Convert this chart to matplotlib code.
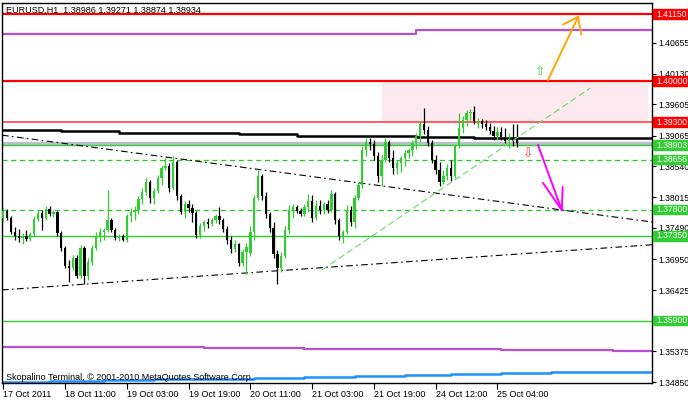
import matplotlib

matplotlib.use("Agg")
import matplotlib.pyplot as plt  # noqa: E402
from matplotlib.patches import Rectangle  # noqa: E402
from matplotlib.transforms import blended_transform_factory  # noqa: E402

# EURUSD H1 candles, 17 Oct 19:00 .. 25 Oct 09:00 (one bar per hour)
opens = [
    1.3766, 1.3778, 1.3766, 1.3742, 1.3735, 1.3732, 1.3735, 1.3730, 1.3738, 1.3764,
    1.3774, 1.3766, 1.3781, 1.3773, 1.3776, 1.3740, 1.3714, 1.3684, 1.3680, 1.3697,
    1.3666, 1.3714, 1.3666, 1.3690, 1.3714, 1.3735, 1.3742, 1.3745, 1.3762, 1.3745,
    1.3732, 1.3735, 1.3728, 1.3769, 1.3776, 1.3779, 1.3798, 1.3810, 1.3827, 1.3800,
    1.3812, 1.3834, 1.3851, 1.3855, 1.3817, 1.3862, 1.3803, 1.3776, 1.3790, 1.3783,
    1.3774, 1.3737, 1.3752, 1.3759, 1.3756, 1.3762, 1.3769, 1.3762, 1.3747, 1.3728,
    1.3713, 1.3721, 1.3689, 1.3708, 1.3706, 1.3742, 1.3800, 1.3838, 1.3803, 1.3773,
    1.3749, 1.3704, 1.3680, 1.3701, 1.3745, 1.3779, 1.3785, 1.3778, 1.3773, 1.3785,
    1.3795, 1.3766, 1.3786, 1.3779, 1.3790, 1.3779, 1.3807, 1.3762, 1.3735, 1.3742,
    1.3779, 1.3759, 1.3800, 1.3822, 1.3882, 1.3896, 1.3892, 1.3872, 1.3838, 1.3865,
    1.3896, 1.3868, 1.3851, 1.3860, 1.3868, 1.3877, 1.3882, 1.3894, 1.3906, 1.3927,
    1.3916, 1.3894, 1.3865, 1.3848, 1.3827, 1.3838, 1.3851, 1.3838, 1.3889, 1.3920,
    1.3934, 1.3946, 1.3947, 1.3927, 1.3932, 1.3927, 1.3922, 1.3915, 1.3906, 1.3913,
    1.3904, 1.3898, 1.3901, 1.38986,
]
highs = [
    1.3785, 1.3781, 1.3769, 1.3750, 1.3747, 1.3740, 1.3745, 1.3742, 1.3769, 1.3779,
    1.3779, 1.3786, 1.3786, 1.3779, 1.3778, 1.3744, 1.3718, 1.3694, 1.3702, 1.3702,
    1.3720, 1.3718, 1.3697, 1.3720, 1.3742, 1.3749, 1.3749, 1.3814, 1.3766, 1.3749,
    1.3738, 1.3738, 1.3773, 1.3783, 1.3786, 1.3803, 1.3817, 1.3834, 1.3831, 1.3817,
    1.3839, 1.3857, 1.3868, 1.3860, 1.3872, 1.3865, 1.3807, 1.3795, 1.3797, 1.3790,
    1.3778, 1.3757, 1.3762, 1.3766, 1.3766, 1.3773, 1.3785, 1.3766, 1.3752, 1.3735,
    1.3728, 1.3723, 1.3713, 1.3723, 1.3752, 1.3805, 1.3848, 1.3841, 1.3810, 1.3776,
    1.3759, 1.3711, 1.3708, 1.3752, 1.3788, 1.3790, 1.3788, 1.3783, 1.3790, 1.3807,
    1.3805, 1.3797, 1.3797, 1.3793, 1.3797, 1.3814, 1.3810, 1.3766, 1.3745, 1.3788,
    1.3786, 1.3805, 1.3827, 1.3889, 1.3903, 1.3903, 1.3899, 1.3879, 1.3874, 1.3903,
    1.3899, 1.3882, 1.3865, 1.3872, 1.3882, 1.3886, 1.3899, 1.3911, 1.3932, 1.3954,
    1.3923, 1.3899, 1.3874, 1.3862, 1.3848, 1.3858, 1.3865, 1.3891, 1.3946, 1.3940,
    1.3951, 1.3952, 1.3958, 1.3937, 1.3935, 1.3934, 1.3928, 1.3923, 1.3922, 1.3922,
    1.3920, 1.3911, 1.3927, 1.39271,
]
lows = [
    1.3759, 1.3762, 1.3738, 1.3728, 1.3725, 1.3721, 1.3726, 1.3726, 1.3735, 1.3761,
    1.3745, 1.3762, 1.3769, 1.3768, 1.3735, 1.3709, 1.3680, 1.3656, 1.3677, 1.3663,
    1.3663, 1.3653, 1.3660, 1.3685, 1.3711, 1.3725, 1.3728, 1.3742, 1.3742, 1.3728,
    1.3726, 1.3726, 1.3725, 1.3759, 1.3762, 1.3773, 1.3790, 1.3805, 1.3791, 1.3790,
    1.3809, 1.3822, 1.3848, 1.3810, 1.3814, 1.3797, 1.3773, 1.3766, 1.3776, 1.3759,
    1.3732, 1.3732, 1.3744, 1.3749, 1.3752, 1.3757, 1.3756, 1.3742, 1.3721, 1.3706,
    1.3708, 1.3684, 1.3684, 1.3670, 1.3701, 1.3728, 1.3797, 1.3797, 1.3766, 1.3742,
    1.3697, 1.3653, 1.3673, 1.3697, 1.3738, 1.3766, 1.3774, 1.3769, 1.3769, 1.3776,
    1.3759, 1.3762, 1.3773, 1.3773, 1.3774, 1.3776, 1.3756, 1.3728, 1.3723, 1.3738,
    1.3752, 1.3749, 1.3797, 1.3817, 1.3872, 1.3882, 1.3865, 1.3827, 1.3821, 1.3862,
    1.3862, 1.3841, 1.3841, 1.3845, 1.3855, 1.3868, 1.3872, 1.3884, 1.3896, 1.3910,
    1.3889, 1.3860, 1.3841, 1.3821, 1.3824, 1.3831, 1.3829, 1.3834, 1.3886, 1.3911,
    1.3923, 1.3934, 1.3927, 1.3920, 1.3920, 1.3916, 1.3910, 1.3899, 1.3899, 1.3899,
    1.3894, 1.3886, 1.3889, 1.38874,
]
closes = [
    1.3778, 1.3766, 1.3742, 1.3735, 1.3732, 1.3735, 1.3730, 1.3738, 1.3764, 1.3774,
    1.3766, 1.3781, 1.3773, 1.3776, 1.3740, 1.3714, 1.3684, 1.3680, 1.3697, 1.3666,
    1.3714, 1.3666, 1.3690, 1.3714, 1.3735, 1.3742, 1.3745, 1.3762, 1.3745, 1.3732,
    1.3735, 1.3728, 1.3769, 1.3776, 1.3779, 1.3798, 1.3810, 1.3827, 1.3800, 1.3812,
    1.3834, 1.3851, 1.3855, 1.3817, 1.3862, 1.3803, 1.3776, 1.3790, 1.3783, 1.3774,
    1.3737, 1.3752, 1.3759, 1.3756, 1.3762, 1.3769, 1.3762, 1.3747, 1.3728, 1.3713,
    1.3721, 1.3689, 1.3708, 1.3716, 1.3742, 1.3800, 1.3838, 1.3803, 1.3773, 1.3749,
    1.3704, 1.3680, 1.3701, 1.3745, 1.3779, 1.3785, 1.3778, 1.3773, 1.3785, 1.3795,
    1.3766, 1.3786, 1.3779, 1.3790, 1.3779, 1.3807, 1.3762, 1.3735, 1.3742, 1.3779,
    1.3759, 1.3800, 1.3822, 1.3882, 1.3896, 1.3892, 1.3872, 1.3838, 1.3865, 1.3896,
    1.3868, 1.3851, 1.3860, 1.3868, 1.3877, 1.3882, 1.3894, 1.3906, 1.3927, 1.3916,
    1.3894, 1.3865, 1.3848, 1.3827, 1.3838, 1.3851, 1.3838, 1.3889, 1.3920, 1.3934,
    1.3946, 1.3947, 1.3932, 1.3932, 1.3927, 1.3922, 1.3915, 1.3906, 1.3913, 1.3904,
    1.3898, 1.3901, 1.3898, 1.38934,
]

time_tick_bars = [0, 16, 32, 48, 64, 80, 96, 112, 128]
time_tick_labels = ["17 Oct 2011", "18 Oct 11:00", "19 Oct 03:00", "19 Oct 19:00",
                    "20 Oct 11:00", "21 Oct 03:00", "21 Oct 19:00", "24 Oct 12:00",
                    "25 Oct 04:00"]
# 1.35900 / 1.41180 grid values sit under the level tags, so they are not listed
price_ticks = [1.40655, 1.40130, 1.39605, 1.39065, 1.38540, 1.38015, 1.37490,
               1.36950, 1.36425, 1.35375, 1.34850]
price_tick_labels = ["1.40655", "1.40130", "1.39605", "1.39065", "1.38540", "1.38015",
                     "1.37490", "1.36950", "1.36425", "1.35375", "1.34850"]

# horizontal levels
red_levels = [1.41150, 1.40000, 1.39300]
green_dashed_levels = [1.38656, 1.37800]
green_solid_levels = [1.38903, 1.37350, 1.35900]
bid_price = 1.38934
resistance_zone = (98, 167, 1.39300, 1.40000)

# stepped indicator lines (bar where each step starts, value)
black_ma_bars = [0, 15, 30, 46, 61, 76, 92, 107, 122, 138, 153]
black_ma_vals = [1.3916, 1.3915, 1.3912, 1.3911, 1.3909, 1.3907, 1.3906, 1.3904,
                 1.3903, 1.3903, 1.3902]
top_purple_bars = [0, 107]
top_purple_vals = [1.40816, 1.40885]
low_purple_bars = [0, 26, 52, 78, 104, 129, 158]
low_purple_vals = [1.35455, 1.35445, 1.35430, 1.35420, 1.35410, 1.35405, 1.35381]
blue_bars = [0, 12, 26, 39, 52, 65, 78, 91, 104, 116, 129, 142, 155]
blue_vals = [1.34842, 1.34862, 1.34884, 1.34893, 1.34907, 1.34919, 1.34931,
             1.34958, 1.34970, 1.34979, 1.34999, 1.35016, 1.35027]

# trend lines: two anchor points each (bar, price)
upper_trend = [(0.4, 1.3907), (168.0, 1.3759)]
lower_trend = [(0.4, 1.3643), (168.0, 1.3720)]
up_channel = [(82.6, 1.3677), (152.0, 1.3988)]

# forecast arrows: tail, head, two barbs (bar, price)
orange_arrow = [(141.1, 1.4002), (148.9, 1.4110), (145.0, 1.4097), (149.7, 1.4080)]
magenta_arrow = [(138.5, 1.3891), (144.7, 1.3779), (139.8, 1.3826), (144.9, 1.3819)]

XMIN, XMAX = -0.34, 168.05
YMIN, YMAX = 1.34833, 1.41339
BULL = "#32cd32"
BEAR = "#000000"

plt.rcParams.update({
    "font.family": ["Liberation Sans", "DejaVu Sans"],
    "font.size": 6.5,
})
fig = plt.figure(figsize=(6.88, 4.01), dpi=100)
ax = fig.add_axes([2 / 688, 18 / 401, 650 / 688, 380 / 401])
ax.set_xlim(XMIN, XMAX)
ax.set_ylim(YMIN, YMAX)

# resistance zone
x0, x1, lo, hi = resistance_zone
ax.fill_between([x0, x1], lo, hi, color="#fdeaf0", lw=0, zorder=0)

ax.axhline(red_levels[0], color="#ff0000", lw=1.6, zorder=1)
ax.axhline(red_levels[1], color="#ff0000", lw=1.6, zorder=1)
ax.axhline(red_levels[2], color="#ff5c5c", lw=1.4, zorder=1)
ax.axhline(bid_price, color="#bdbdcc", lw=2.4, zorder=1)
for level in green_dashed_levels:
    ax.axhline(level, color="#22cc22", lw=0.9, ls=(0, (4, 3)), zorder=1)
for level in green_solid_levels:
    ax.axhline(level, color="#32cd32", lw=1.0, zorder=1)


def stepped(bars, vals, **kw):
    ax.step(list(bars) + [XMAX], list(vals) + [vals[-1]], where="post", **kw)


stepped(black_ma_bars, black_ma_vals, color="black", lw=1.8, zorder=2)
stepped(top_purple_bars, top_purple_vals, color="#b44fd6", lw=1.6, zorder=2)
stepped(low_purple_bars, low_purple_vals, color="#b44fd6", lw=1.6, zorder=2)
stepped(blue_bars, blue_vals, color="#1e90ff", lw=1.8, zorder=2)

ax.axline(*upper_trend, color="black", lw=0.8, ls=(0, (6, 3, 1.5, 3)), zorder=2)
ax.axline(*lower_trend, color="black", lw=0.8, ls=(0, (6, 3, 1.5, 3)), zorder=2)
ax.plot(*zip(*up_channel), color="#66dd66", lw=0.8, ls=(0, (6, 3)), zorder=4)

# candles
for i, (o, h, l, c) in enumerate(zip(opens, highs, lows, closes)):
    col = BULL if c >= o else BEAR
    ax.vlines(i, l, h, color=col, lw=0.9, zorder=3)
    ax.bar(i, max(abs(c - o), 0.00008), bottom=min(o, c), width=0.6, color=col,
           lw=0, zorder=3)

for arrow, col in ((orange_arrow, "#ffa500"), (magenta_arrow, "#ff00ff")):
    tail, head, barb1, barb2 = arrow
    for start in (tail, barb1, barb2):
        ax.plot([start[0], head[0]], [start[1], head[1]], color=col, lw=1.4,
                solid_capstyle="round", zorder=5)

ax.text(139.2, 1.4016, "\u21e7", color="#33cc33", fontsize=9, ha="center", va="center",
        family="DejaVu Sans", zorder=5)
ax.text(135.9, 1.3876, "\u21e9", color="#ff3b3b", fontsize=9, ha="center", va="center",
        family="DejaVu Sans", zorder=5)

# axes look
for spine in ax.spines.values():
    spine.set_color("black")
    spine.set_linewidth(1.0)
ax.yaxis.tick_right()
ax.set_yticks(price_ticks, price_tick_labels)
ax.tick_params(axis="y", length=3, width=0.8, pad=1.5, direction="out", labelsize=6.2)
ax.set_xticks(time_tick_bars, time_tick_labels, ha="left")
ax.tick_params(axis="x", length=4, width=0.8, pad=1, direction="out")

# price tags on the scale
trans = blended_transform_factory(ax.transAxes, ax.transData)
tags = [(1.41150, "#ff0000"), (1.40000, "#ff0000"), (1.39300, "#ff0000"),
        (1.38903, "#32cd32"), (1.38656, "#32cd32"), (1.37800, "#32cd32"),
        (1.37350, "#32cd32"), (1.35900, "#32cd32")]
for price, col in tags:
    ax.add_patch(Rectangle((1.0015, price - 0.00082), 0.07, 0.00164, transform=trans,
                           color=col, clip_on=False, zorder=10))
    ax.text(1.0070, price, f"{price:.5f}", transform=trans, color="white",
            ha="left", va="center", fontsize=6.2, clip_on=False, zorder=11)

fig.text(6 / 688, 1 - 10 / 401, "EURUSD,H1  1.38986 1.39271 1.38874 1.38934",
         ha="left", va="center", color="black")
fig.text(6 / 688, 1 - 377 / 401,
         "Skopalino Terminal, \u00a9 2001-2010 MetaQuotes Software Corp.",
         ha="left", va="center", color="black")

fig.savefig("out.png", dpi=100, facecolor="white")
